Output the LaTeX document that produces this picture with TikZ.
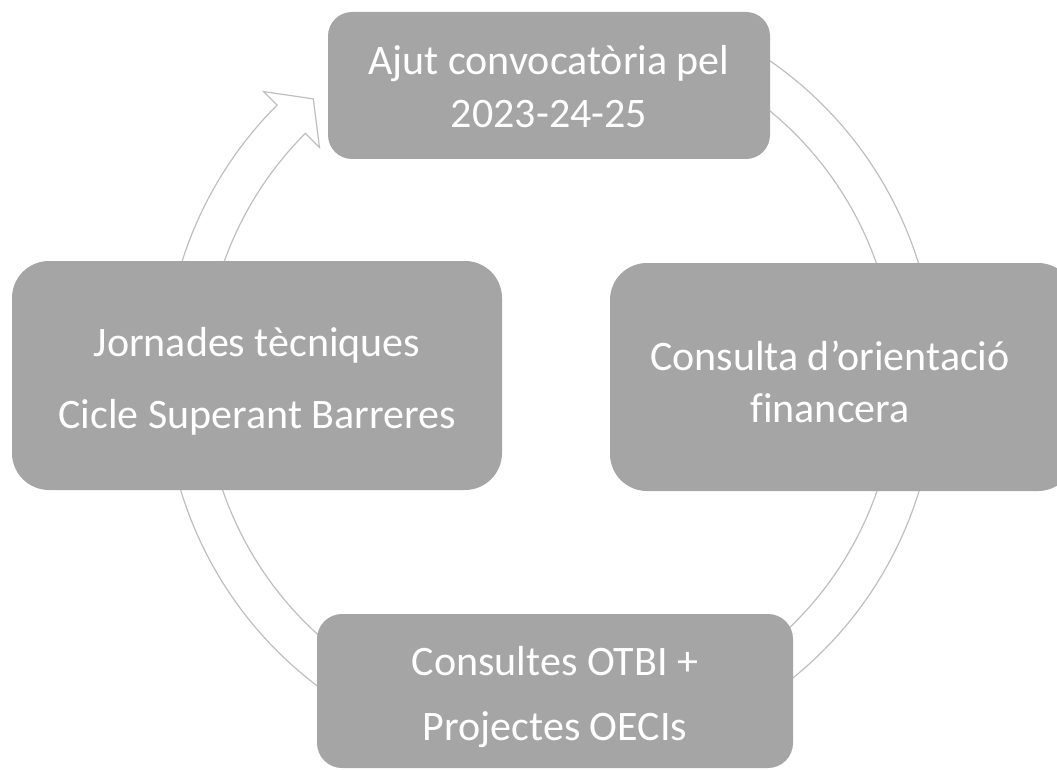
\documentclass[tikz,border=0pt]{standalone}
\usepackage{fontspec}
\setmainfont{Carlito}[Ligatures=NoCommon]
\definecolor{boxgray}{HTML}{A5A5A5}
\definecolor{ringgray}{HTML}{BFBFBF}
\begin{document}
\begin{tikzpicture}[x=1pt,y=-1pt,
  cyclebox/.style={fill=boxgray, inner sep=0pt, draw=none},
  boxlabel/.style={text=white, align=center, inner sep=0pt},
  ring/.style={draw=ringgray, fill=white, line width=1.2pt, line join=miter}]
\useasboundingbox (0,0) rectangle (1057,770);
% circular arrow
\draw[ring] plot[domain=60:-225,samples=200] ({550+386*cos(\x)},{378-386*sin(\x)})
  -- ({550+405*cos(-225)},{378-405*sin(-225)})
  -- ({550+366*cos(-229.7)},{378-366*sin(-229.7)})
  -- ({550+326*cos(-225)},{378-326*sin(-225)})
  -- plot[domain=-225:60,samples=200] ({550+346*cos(\x)},{378-346*sin(\x)}) -- cycle;
% boxes
\node[cyclebox, rounded corners=24pt, minimum width=442pt, minimum height=147pt] (top) at (549,85.5) {};
\node[cyclebox, rounded corners=37pt, minimum width=490pt, minimum height=229pt] (left) at (257,375.5) {};
\node[cyclebox, rounded corners=37pt, minimum width=465pt, minimum height=228pt] (right) at (842.5,377) {};
\node[cyclebox, rounded corners=25pt, minimum width=476pt, minimum height=154pt] (bottom) at (555,691) {};
% texts
\node[boxlabel, font=\fontsize{42}{53}\selectfont] (topL) at (549,87) {Ajut convocatòria pel\\2023-24-25};
\node[boxlabel, font=\fontsize{42}{72}\selectfont] (leftL) at (257,381) {Jornades tècniques\\Cicle Superant Barreres};
\node[boxlabel, font=\fontsize{42}{52}\selectfont] (rightL) at (830,382) {Consulta d’orientació\\financera};
\node[boxlabel, font=\fontsize{42}{65}\selectfont] (bottomL) at (555,697) {Consultes OTBI +\\Projectes OECIs};
\end{tikzpicture}
\end{document}
